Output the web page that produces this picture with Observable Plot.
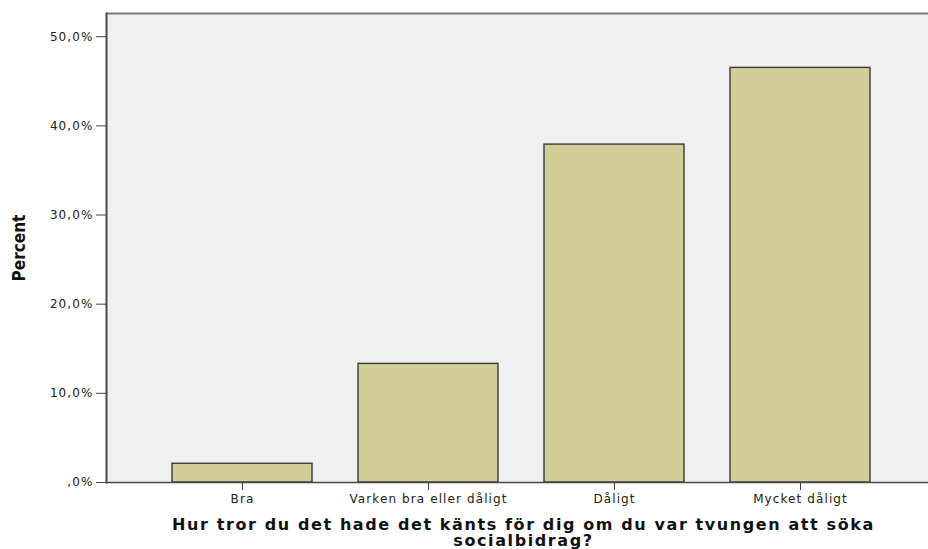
<!DOCTYPE html>
<html>
<head>
<meta charset="utf-8">
<script src="https://cdn.jsdelivr.net/npm/d3@7"></script>
<script src="https://cdn.jsdelivr.net/npm/@observablehq/plot@0.6"></script>
<style>
  html, body { margin: 0; padding: 0; background: #fff; overflow: hidden; }
  #chart svg { display: block; }
</style>
</head>
<body>
<div id="chart"></div>
<script>
const categories = ["Bra", "Varken bra eller dåligt", "Dåligt", "Mycket dåligt"];
const percents = [2.1, 13.3, 37.9, 46.5];
const yTicks = [0, 10, 20, 30, 40, 50];
const yMax = 52.6;
const yTitle = "Percent";
const xTitle = "Hur tror du det hade det känts för dig om du var tvungen att söka\nsocialbidrag?";

const data = categories.map((c, i) => ({category: c, value: percents[i]}));
const fmt = d => (d === 0 ? "" : String(Math.floor(d))) + "," + String(Math.round((d % 1) * 10)) + "%";

const chart = Plot.plot({
  width: 928,
  height: 549,
  marginLeft: 106,
  marginTop: 13,
  marginBottom: 67,
  marginRight: 0,
  style: {background: "#ffffff", fontFamily: "'DejaVu Sans', Verdana, sans-serif"},
  x: {domain: categories, range: [105, 937], paddingInner: 0.245, paddingOuter: 0.35, align: 0.5},
  y: {domain: [0, yMax]},
  marks: [
    Plot.frame({fill: "#f0f0f0", stroke: "none"}),
    Plot.barY(data, {x: "category", y: "value", fill: "#d3ce97", stroke: "#3a3a3a", strokeWidth: 1.4}),
    Plot.ruleY([yMax], {stroke: "#7a7a7a", strokeWidth: 2}),
    Plot.ruleY([0], {stroke: "#4a4a4a", strokeWidth: 1.6}),
    Plot.frame({anchor: "left", stroke: "#4a4a4a", strokeWidth: 2}),
    Plot.axisY({ticks: yTicks, tickFormat: fmt, tickSize: 10, tickPadding: 3, fontSize: 12, label: null, stroke: "#444", color: "#222"}),
    Plot.axisX({tickSize: 8, tickPadding: 4, fontSize: 12, label: null, stroke: "#444", color: "#222"}),
    Plot.text([yTitle], {frameAnchor: "left", dx: -87, rotate: -90, textAnchor: "middle", fontSize: 17, fontWeight: "bold", fontFamily: "'Liberation Sans Narrow', 'DejaVu Sans Condensed', sans-serif", fill: "#111"}),
    Plot.text([xTitle], {frameAnchor: "bottom", dx: 6, dy: 50, lineAnchor: "middle", lineHeight: 1.0, fontSize: 16, fontWeight: "bold", fill: "#111", textAnchor: "middle"})
  ]
});
document.getElementById("chart").append(chart);
// letter spacing for the SPSS-like wide text
chart.querySelectorAll("g[aria-label='y-axis tick label'] text, g[aria-label='x-axis tick label'] text").forEach(t => t.setAttribute("letter-spacing", "1.1"));
chart.querySelectorAll("g[aria-label='text'] text").forEach(t => { if (t.querySelector("tspan")) t.setAttribute("letter-spacing", "1.6"); });
</script>
</body>
</html>
